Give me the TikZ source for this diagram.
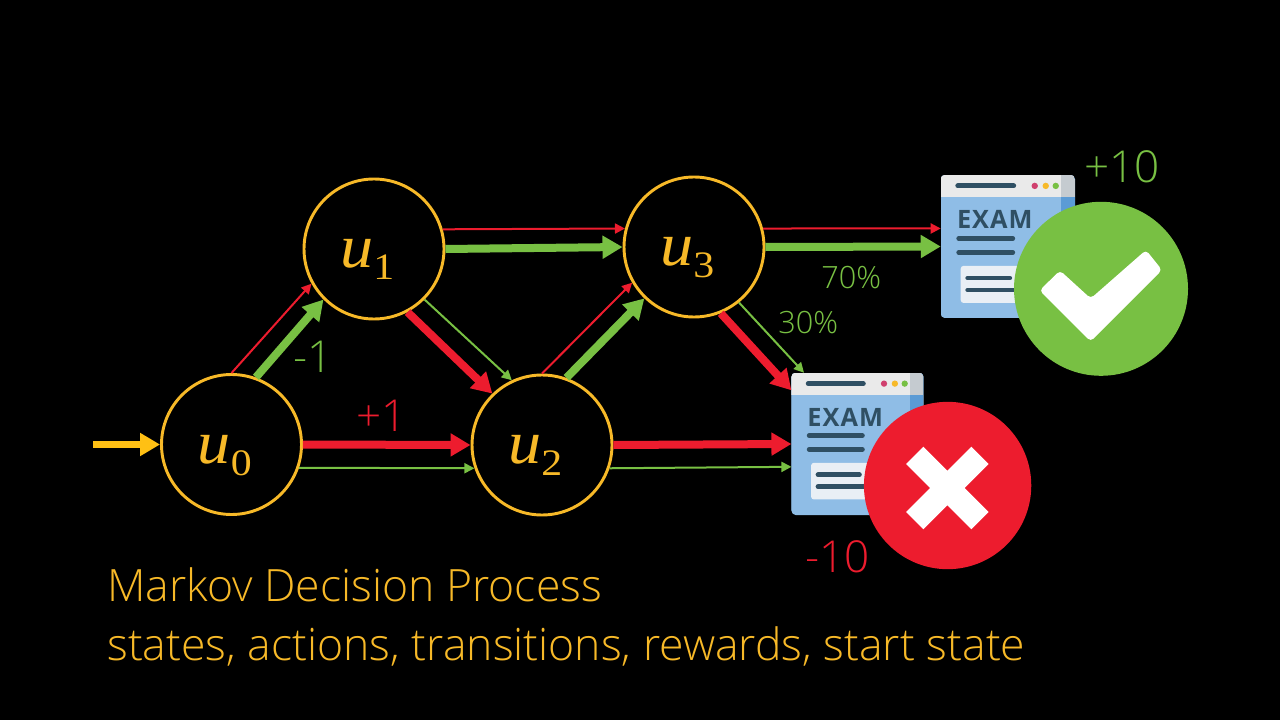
\documentclass[tikz,border=0pt]{standalone}
\usepackage{fontspec}
\setmainfont{Open Sans Light}
\newfontfamily\examf[LetterSpace=4]{Open Sans Bold}
\newfontfamily\mathf{Liberation Serif}
\usetikzlibrary{arrows.meta}
\definecolor{rd}{HTML}{ED1C2E}
\definecolor{gn}{HTML}{78C043}
\definecolor{gold}{HTML}{F7B928}
\definecolor{ink}{HTML}{2F4F63}
\definecolor{startgold}{HTML}{FFC014}
\definecolor{examblue}{HTML}{8FBDE6}
\definecolor{headgray}{HTML}{EAEAEA}
\definecolor{sidegray}{HTML}{C5CBD0}
\definecolor{sideblue}{HTML}{5B9BD5}
\definecolor{dotpink}{HTML}{D0406E}
\definecolor{boxwhite}{HTML}{E9EFF5}
\tikzset{
  statenode/.style={circle,draw=gold,line width=2.2pt,minimum size=105pt,inner sep=0pt,text=gold},
  thick arrow/.style={line width=6pt,-{Triangle[length=15pt,width=16.5pt]}},
  thin arrow/.style={line width=1.5pt,-{Triangle[length=7.5pt,width=7.5pt]}},
  redthick/.style={thick arrow,rd},
  greenthick/.style={thick arrow,gn},
  redthin/.style={thin arrow,rd},
  greenthin/.style={thin arrow,gn},
  startarrow/.style={line width=5.5pt,color=startgold,-{Triangle[length=15pt,width=16.5pt]}},
  examframe/.style={rectangle,inner sep=0pt,fill=examblue,rounded corners=3pt},
  lab/.style={anchor=base west,inner sep=0pt,font=\fontsize{33}{33}\selectfont},
  smalllab/.style={anchor=base west,inner sep=0pt,font=\fontsize{23}{23}\selectfont},
  caption/.style={anchor=base west,inner sep=0pt,text=gold,font=\fontsize{33.4}{33.4}\selectfont},
  inkline/.style={ink,line width=3.6pt,line cap=round},
}
\newcommand{\ustate}[1]{\smash{\makebox[0pt][l]{\kern-25.5pt\raisebox{-14.2pt}{\mathf\fontsize{46}{46}\selectfont\scalebox{1.08}[1]{\itshape u}}}\makebox[0pt][l]{\kern-0.5pt\raisebox{-23pt}{\mathf\fontsize{28}{28}\selectfont\scalebox{1.12}[1]{#1}}}}}
\newcommand{\examdetails}[1]{%
  \begin{scope}
    \clip[rounded corners=3pt] (0,0) rectangle (134,143);
    \fill[examblue] (0,0) rectangle (134,143);
    \fill[headgray] (0,0) rectangle (120,22);
    \fill[sidegray] (120,0) rectangle (134,22);
    \fill[sideblue] (120,22) rectangle (134,143);
  \end{scope}
  \draw[inkline] (17,11) -- (73,11);
  \fill[dotpink] (94,11) circle (2.4pt);
  \fill[gold] (105,11) circle (2.4pt);
  \fill[gn] (115,11) circle (2.4pt);
  \node[anchor=base west,inner sep=0pt,text=ink] (#1title) at (16,54) {\examf\fontsize{19}{19}\selectfont EXAM};
  \draw[inkline] (18,63.5) -- (72,63.5);
  \draw[inkline] (18,77.5) -- (72,77.5);
  \fill[boxwhite,rounded corners=2pt] (20,91) rectangle (95,128);
  \draw[inkline] (27,103) -- (69,103);
  \draw[inkline] (27,115) -- (85,115);
}
\begin{document}
\begin{tikzpicture}[x=0.75pt,y=-0.75pt]
\useasboundingbox[fill=black] (0,0) rectangle (1280,720);
% states
\node[statenode] (u0) at (231.5,444.5) {\ustate{0}};
\node[statenode] (u1) at (374,249) {\ustate{1}};
\node[statenode] (u2) at (542,445) {\ustate{2}};
\node[statenode] (u3) at (694,247) {\ustate{3}};
\coordinate (startfree) at (93,444.5);
% exam icons
\node[examframe,minimum width=100.5pt,minimum height=107pt] (exam1) at (1008,246.5) {};
\begin{scope}[shift={(exam1.north west)}]\examdetails{a}\end{scope}
\node[examframe,minimum width=99pt,minimum height=106.5pt] (exam2) at (857.7,444) {};
\begin{scope}[shift={(exam2.north west)},xscale=0.985,yscale=0.99]\examdetails{b}\end{scope}
% badges
\node[circle,fill=gn,minimum size=130.5pt,inner sep=0pt] (ok) at (1101,288.8) {};
\fill[white,rounded corners=3pt] (1039.5,290.5) -- (1060,270.5) -- (1090.7,298.5) -- (1146,250) -- (1162,270) -- (1090.7,341.5) -- cycle;
\node[circle,fill=rd,minimum size=125.5pt,inner sep=0pt] (no) at (947.6,485.5) {};
\begin{scope}[shift={(947.3,488)}]
\fill[white] (-24,-41.3) -- (0,-17.3) -- (24,-41.3) -- (41.3,-24) -- (17.3,0) -- (41.3,24) -- (24,41.3) -- (0,17.3) -- (-24,41.3) -- (-41.3,24) -- (-17.3,0) -- (-41.3,-24) -- cycle;
\end{scope}
% connectors
\draw[startarrow] (startfree) -- (u0.west);
\draw[redthin] (u0.90) -- (u1.209);
\draw[greenthick] (u0.70.8) -- (u1.225);
\draw[redthick] (u0.east) -- (u2.west);
\draw[greenthin] (u0.-19) -- (u2.199);
\draw[redthick] (u1.-62) -- (u2.134);
\draw[greenthin] (u1.-45) -- (u2.115);
\draw[redthin] (u1.16) -- (u3.165);
\draw[greenthick] (u1.east) -- (u3.west);
\draw[redthin] (u2.90) -- (u3.210);
\draw[greenthick] (u2.70.5) -- (u3.226);
\draw[redthin] (u3.15) -- (exam1.165);
\draw[greenthick] (u3.east) -- (exam1.west);
\draw[redthick] (u3.-68) -- (exam2.141);
\draw[greenthin] (u3.-51.6) -- (exam2.127);
\draw[redthick] (u2.east) -- (exam2.west);
\draw[greenthin] (u2.-19) -- (exam2.199);
% labels
\node[lab,text=gn] (p10) at (1084,183) {+10};
\node[lab,text=rd] (m10) at (805,572) {-10};
\node[lab,text=gn] (m1) at (293,372) {-1};
\node[lab,text=rd] (p1) at (356,431) {+1};
\node[smalllab,text=gn] (s70) at (821,288) {70\%};
\node[smalllab,text=gn] (s30) at (778,333) {30\%};
\node[caption] (c1) at (107,601) {Markov Decision Process};
\node[caption] (c2) at (107,660) {states, actions, transitions, rewards, start state};
\end{tikzpicture}
\end{document}
